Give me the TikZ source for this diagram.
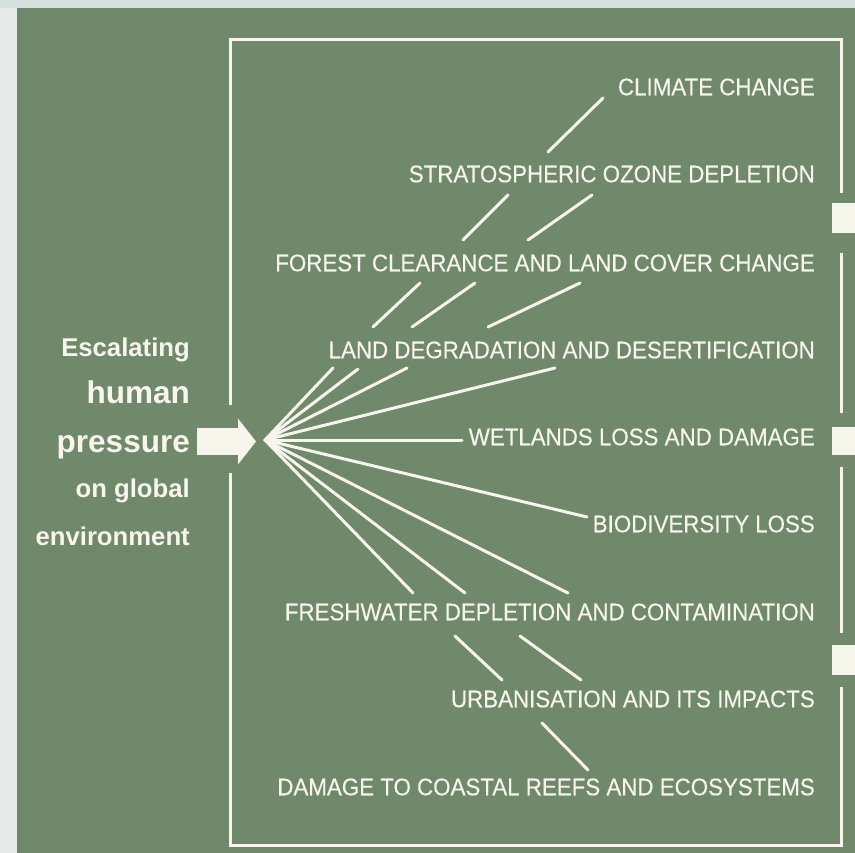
\documentclass[tikz,border=0pt]{standalone}
\usepackage{fontspec}
\setmainfont{Liberation Sans}
\newfontfamily\labfont{Liberation Sans}[FakeStretch=0.93, FakeBold=0.3]
\newfontfamily\leftfont{Liberation Sans}[FakeStretch=1.0]
\usetikzlibrary{arrows.meta}
\definecolor{panel}{RGB}{112,137,107}
\definecolor{ink}{RGB}{246,246,236}
\definecolor{topstrip}{RGB}{214,224,222}
\definecolor{leftstrip}{RGB}{231,234,232}
\begin{document}
\begin{tikzpicture}[x=1pt,y=-1pt,
  frame/.style={draw=ink, line width=3pt, line join=miter},
  fan/.style={draw=ink, line width=3pt, line cap=round},
  lab/.style={anchor=east, inner sep=0pt, text=ink, font=\labfont\fontsize{24}{28}\selectfont},
  lsmall/.style={anchor=base east, inner sep=0pt, text=ink, font=\leftfont\bfseries\fontsize{25.7}{30}\selectfont},
  lbig/.style={anchor=base east, inner sep=0pt, text=ink, font=\leftfont\bfseries\fontsize{31.5}{36}\selectfont},
  bigarrow/.style={draw=ink, line width=27pt, -{Triangle[length=18pt,width=45pt]}},
  outbox/.style={fill=ink}]
\useasboundingbox (0,0) rectangle (855,853);
% background
\fill[leftstrip] (0,0) rectangle (855,853);
\fill[topstrip] (0,0) rectangle (855,8);
\fill[panel] (17,8) rectangle (855,853);
% frame
\draw[frame] (230,405) -- (230,40) -- (841,40) -- (841,193);
\draw[frame] (841,253) -- (841,413);
\draw[frame] (841,467) -- (841,633);
\draw[frame] (841,687) -- (841,845) -- (230,845) -- (230,473);
% outgoing arrows (cut by the edge)
\fill[outbox] (832,203) rectangle (855,233);
\fill[outbox] (832,427) rectangle (855,455);
\fill[outbox] (832,645) rectangle (855,675);
% left text
\node[lsmall] (esc) at (190,356) {Escalating};
\node[lbig] (hum) at (190,403) {human};
\node[lbig] (pres) at (190,452) {pressure};
\node[lsmall] (ong) at (190,497) {on global};
\node[lsmall] (env) at (190,545) {environment};
% main arrow
\coordinate (arrS) at (197,441.5);
\coordinate (arrE) at (256,441.5);
\draw[bigarrow] (arrS) -- (arrE);
% right labels
\node[lab] (cc)  at (815,87)  {CLIMATE CHANGE};
\node[lab] (oz)  at (815,174) {STRATOSPHERIC OZONE DEPLETION};
\node[lab] (fc)  at (815,263) {FOREST CLEARANCE AND LAND COVER CHANGE};
\node[lab] (ld)  at (815,350) {LAND DEGRADATION AND DESERTIFICATION};
\node[lab] (wl)  at (815,437) {WETLANDS LOSS AND DAMAGE};
\node[lab] (bd)  at (815,524) {BIODIVERSITY LOSS};
\node[lab] (fw)  at (815,612) {FRESHWATER DEPLETION AND CONTAMINATION};
\node[lab] (ub)  at (815,699) {URBANISATION AND ITS IMPACTS};
\node[lab] (dc)  at (815,787) {DAMAGE TO COASTAL REEFS AND ECOSYSTEMS};
% hub and fan
\coordinate (hub) at (265,440);
\coordinate (f1) at (333,368);
\coordinate (f2) at (358,369);
\coordinate (f3) at (407,368);
\coordinate (f4) at (555,368);
\coordinate (f5) at (462,440);
\coordinate (f6) at (587,517);
\coordinate (f7) at (568,593);
\coordinate (f8) at (465,593);
\coordinate (f9) at (413,593);
\foreach \e in {f1,f2,f3,f4,f5,f6,f7,f8,f9} \draw[fan] (hub) -- (\e);
% upper continuation strokes
\coordinate (a1) at (373,327); \coordinate (b1) at (420,283);
\coordinate (a2) at (412,327); \coordinate (b2) at (475,283);
\coordinate (a3) at (488,327); \coordinate (b3) at (580,283);
\coordinate (a4) at (463,240); \coordinate (b4) at (508,195);
\coordinate (a5) at (528,240); \coordinate (b5) at (592,195);
\coordinate (a6) at (548,152); \coordinate (b6) at (603,98);
% lower continuation strokes
\coordinate (a7) at (455,636); \coordinate (b7) at (502,680);
\coordinate (a8) at (520,636); \coordinate (b8) at (581,680);
\coordinate (a9) at (542,723); \coordinate (b9) at (588,770);
\foreach \i in {1,...,9} \draw[fan] (a\i) -- (b\i);
\end{tikzpicture}
\end{document}
